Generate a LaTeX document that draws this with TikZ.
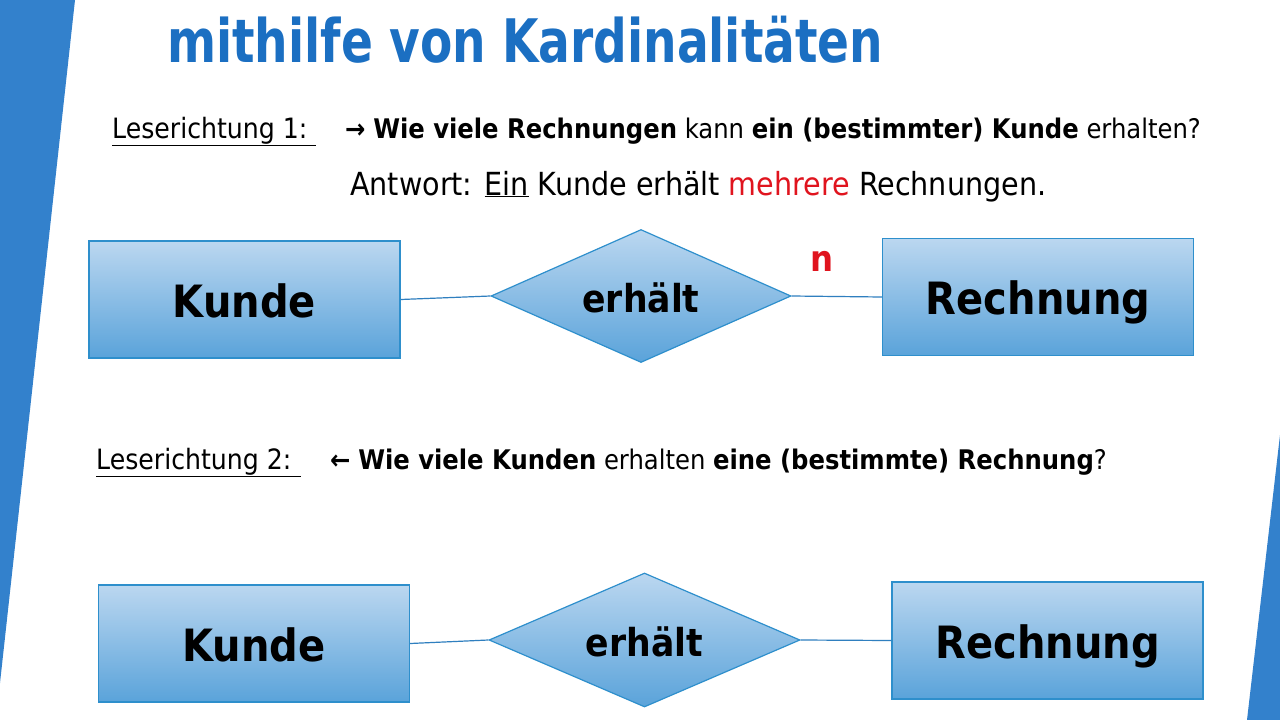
\documentclass[tikz,border=0pt]{standalone}
\usepackage{fontspec}
\setmainfont{DejaVu Sans Condensed}
\usetikzlibrary{shapes.geometric}
\definecolor{stripe}{HTML}{3381CC}
\definecolor{titleblue}{HTML}{1B6FC2}
\definecolor{boxtop}{HTML}{BBD7F0}
\definecolor{boxbot}{HTML}{5AA3DA}
\definecolor{boxline}{HTML}{2E8FCC}
\definecolor{connline}{HTML}{2F7FBF}
\definecolor{ansred}{HTML}{E0141E}
\tikzset{
  entity/.style={rectangle, draw=boxline, line width=1.2pt, top color=boxtop, bottom color=boxbot,
    minimum width=311pt, minimum height=117pt, inner sep=0pt, text height=35.5pt, text depth=0pt,
    font=\fontsize{44.5}{44}\selectfont\bfseries},
  relation/.style={diamond, draw=boxline, line width=1.2pt, top color=boxtop, bottom color=boxbot,
    minimum width=300pt, minimum height=133pt, inner sep=0pt, aspect=2.25, text height=32pt, text depth=0pt,
    font=\fontsize{38.5}{38}\selectfont\bfseries},
  conn/.style={draw=connline, line width=1.2pt},
  bodytext/.style={anchor=base west, inner sep=0pt, font=\fontsize{27}{30}\selectfont},
  labeltext/.style={anchor=base west, inner sep=0pt, font=\fontsize{28}{30}\selectfont},
}
\begin{document}
\begin{tikzpicture}[x=1pt,y=-1pt]
\useasboundingbox (0,0) rectangle (1280,720);
\fill[white] (0,0) rectangle (1280,720);
\fill[stripe] (0,0) -- (75,0) -- (0,683) -- cycle;
\fill[stripe] (1280,435) -- (1280,720) -- (1247,720) -- cycle;

\node[anchor=base west, inner sep=0pt, text=titleblue, font=\fontsize{60}{60}\selectfont\bfseries] (title) at (167,62) {\scalebox{0.872}[1]{mithilfe von Kardinalitäten}};

\node[labeltext] (l1) at (112,138) {\underline{\makebox[204pt][l]{Leserichtung 1:}}};
\node[bodytext] (q1) at (345,138) {\textbf{→} \textbf{Wie viele Rechnungen} kann \textbf{ein (bestimmter) Kunde} erhalten?};
\node[anchor=base west, inner sep=0pt, font=\fontsize{31.8}{34}\selectfont] (a1) at (350,195) {Antwort: \underline{Ein} Kunde erhält \textcolor{ansred}{mehrere} Rechnungen.};

\node[entity] (k1) at (244.5,299.5) {Kunde};
\node[relation] (d1) at (641,296) {erhält};
\node[entity] (r1) at (1038,297) {Rechnung};
\draw[conn] (k1.east) -- (d1.west);
\draw[conn] (d1.east) -- (r1.west);
\node[text=ansred, font=\fontsize{36}{36}\selectfont\bfseries] (n1) at (822,261) {n};

\node[labeltext] (l2) at (96,469) {\underline{\makebox[205pt][l]{Leserichtung 2:}}};
\node[bodytext] (q2) at (330,469) {\textbf{←} \textbf{Wie viele Kunden} erhalten \textbf{eine (bestimmte) Rechnung}?};

\node[entity] (k2) at (254,643.5) {Kunde};
\node[relation, minimum width=311pt, minimum height=134pt] (d2) at (644.5,640) {erhält};
\node[entity] (r2) at (1047.5,640.5) {Rechnung};
\draw[conn] (k2.east) -- (d2.west);
\draw[conn] (d2.east) -- (r2.west);
\end{tikzpicture}
\end{document}
